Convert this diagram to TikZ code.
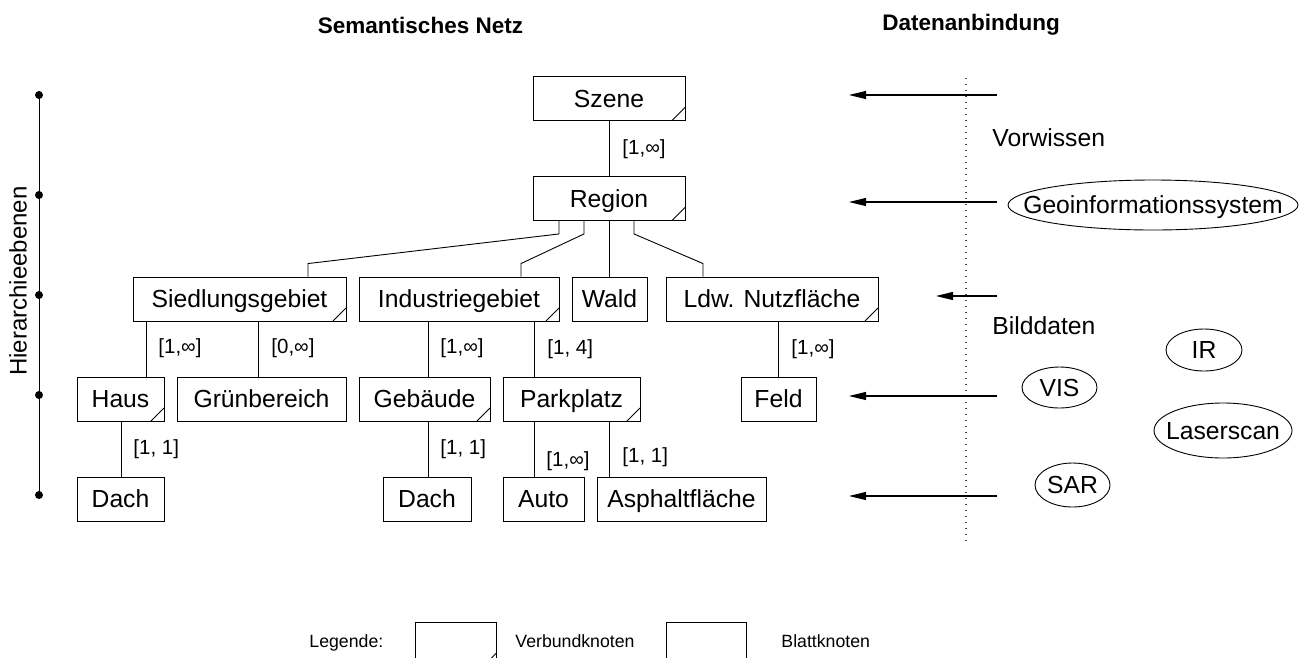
\documentclass[tikz,border=0pt]{standalone}
\usepackage{fontspec}
\setmainfont{Liberation Sans}
\usetikzlibrary{arrows.meta,calc}
\begin{document}
\begin{tikzpicture}[x=1pt,y=-1pt,line width=0.9pt,
  every node/.style={inner sep=0pt},
  maintext/.style={font=\fontsize{24.7}{29}\selectfont,text height=17.7pt,text depth=0pt},
  leafbox/.style={draw,rectangle,maintext,minimum height=44pt},
  compbox/.style={leafbox,path picture={
      \draw ([xshift=-13pt]path picture bounding box.south east)
         -- ([yshift=13pt]path picture bounding box.south east);}},
  card/.style={font=\fontsize{20.5}{24}\selectfont,text height=14.7pt,text depth=0pt,anchor=west},
  title/.style={font=\fontsize{22.5}{27}\bfseries\selectfont},
  legtext/.style={font=\fontsize{17.7}{21}\selectfont,text height=12.7pt,text depth=0pt,anchor=west},
  feed/.style={line width=1.1pt,-{Triangle[length=17pt,width=8pt]}},
  level/.style={circle,fill,minimum size=8pt},
  source/.style={maintext}
]
\useasboundingbox (0,0) rectangle (1303,657);

% column headings
\node[title] (hsem) at (420.5,25) {Semantisches Netz};
\node[title] (hdat) at (971,25) {Datenanbindung};

% semantic net: level 1 and 2
\node[compbox,minimum width=152pt] (szene)  at (609,98.5)  {Szene};
\node[compbox,minimum width=152pt] (region) at (609,198.5) {Region};

% level 3
\node[compbox,minimum width=213pt] (sied) at (239.5,299) {Siedlungsgebiet};
\node[compbox,minimum width=200pt] (indu) at (459,299)   {Industriegebiet};
\node[leafbox,minimum width=75pt]  (wald) at (609.5,299) {Wald};
\node[compbox,minimum width=212pt] (ldw)  at (772,299)   {Ldw. Nutzfläche};

% level 4
\node[compbox,minimum width=87pt]  (haus)  at (120.5,399) {Haus};
\node[leafbox,minimum width=169pt] (gruen) at (261.5,399) {Grünbereich};
\node[compbox,minimum width=131pt] (geb)   at (424.5,399) {Gebäude};
\node[compbox,minimum width=137pt] (park)  at (571.5,399) {Parkplatz};
\node[leafbox,minimum width=75pt]  (feld)  at (778.5,399) {Feld};

% level 5
\node[leafbox,minimum width=87pt]  (dach1) at (120.5,499) {Dach};
\node[leafbox,minimum width=88pt]  (dach2) at (427,499)   {Dach};
\node[leafbox,minimum width=81pt]  (auto)  at (543.5,499) {Auto};
\node[leafbox,minimum width=169pt] (asph)  at (681.5,499) {Asphaltfläche};

% part-of links
\draw (szene.south) -- (region.north);
\draw ([xshift=-50pt]region.south) -- ++(0,13)
   -- ([xshift=68.5pt,yshift=13pt]sied.north) -- ([xshift=68.5pt]sied.north);
\draw ([xshift=-25pt]region.south) -- ++(0,13)
   -- ([xshift=62pt,yshift=13pt]indu.north) -- ([xshift=62pt]indu.north);
\draw (region.south) -- (region.south |- wald.north);
\draw ([xshift=25pt]region.south) -- ++(0,13)
   -- ([xshift=-69pt,yshift=13pt]ldw.north) -- ([xshift=-69pt]ldw.north);

\draw ([xshift=25.5pt]haus.north)  coordinate (v1) -- (v1 |- sied.south);
\draw ([xshift=-3.5pt]gruen.north) coordinate (v2) -- (v2 |- sied.south);
\draw ([xshift=3.5pt]geb.north)    coordinate (v3) -- (v3 |- indu.south);
\draw ([xshift=-37.5pt]park.north) coordinate (v4) -- (v4 |- indu.south);
\draw (feld.north) -- (feld.north |- ldw.south);
\draw ([xshift=0.5pt]dach1.north)  coordinate (v5) -- (v5 |- haus.south);
\draw ([xshift=1pt]dach2.north)    coordinate (v6) -- (v6 |- geb.south);
\draw ([xshift=-9.5pt]auto.north)  coordinate (v7) -- (v7 |- park.south);
\draw ([xshift=-72.5pt]asph.north) coordinate (v8) -- (v8 |- park.south);

% cardinalities
\node[card] (c1)  at (622,147) {[1,∞]};
\node[card] (c2)  at (158,346) {[1,∞]};
\node[card] (c3)  at (271,346) {[0,∞]};
\node[card] (c4)  at (440,346) {[1,∞]};
\node[card] (c5)  at (547,347) {[1, 4]};
\node[card] (c6)  at (791,347) {[1,∞]};
\node[card] (c7)  at (133,447) {[1, 1]};
\node[card] (c8)  at (440,447) {[1, 1]};
\node[card] (c9)  at (546,459) {[1,∞]};
\node[card] (c10) at (622,455) {[1, 1]};

% hierarchy axis
\node[level] (h1) at (39,95)  {};
\node[level] (h2) at (39,195) {};
\node[level] (h3) at (39,295) {};
\node[level] (h4) at (39,395) {};
\node[level] (h5) at (39,495) {};
\draw (h1.center) -- (h5.center);
\node[rotate=90,font=\fontsize{24}{28}\selectfont] (hier) at (18,281) {Hierarchieebenen};

% data binding side
\draw[line width=1.2pt,dash pattern=on 1.3pt off 4.7pt,black!70] (966,78) -- (966,541);
\coordinate (s1) at (997,95);  \coordinate (t1) at (849,95);
\coordinate (s2) at (997,202); \coordinate (t2) at (849,202);
\coordinate (s3) at (997,296); \coordinate (t3) at (936,296);
\coordinate (s4) at (997,396); \coordinate (t4) at (849,396);
\coordinate (s5) at (997,496); \coordinate (t5) at (849,496);
\draw[feed] (s1) -- (t1);
\draw[feed] (s2) -- (t2);
\draw[feed] (s3) -- (t3);
\draw[feed] (s4) -- (t4);
\draw[feed] (s5) -- (t5);

\node[maintext,anchor=west] (vorw) at (992,138) {Vorwissen};
\node[maintext,anchor=west] (bild) at (992,326) {Bilddaten};

\node[source] (gis) at (1153,205) {Geoinformationssystem};
\draw (gis.center) ellipse [x radius=145pt, y radius=25pt];
\node[source] (ir) at (1204,350) {IR};
\draw (ir.center) ellipse [x radius=38pt, y radius=21pt];
\node[source] (vis) at (1059.5,387.5) {VIS};
\draw (vis.center) ellipse [x radius=37.5pt, y radius=20.5pt];
\node[source] (laser) at (1223,430.5) {Laserscan};
\draw (laser.center) ellipse [x radius=69pt, y radius=27.5pt];
\node[source] (sar) at (1072.5,485) {SAR};
\draw (sar.center) ellipse [x radius=37.5pt, y radius=22pt];

% legend
\node[legtext] (leg) at (309,641) {Legende:};
\node[compbox,minimum width=81pt] (legc) at (456,644) {};
\node[legtext] (legct) at (515,641) {Verbundknoten};
\node[leafbox,minimum width=80pt] (legl) at (706.5,644) {};
\node[legtext] (leglt) at (781,641) {Blattknoten};
\end{tikzpicture}
\end{document}
